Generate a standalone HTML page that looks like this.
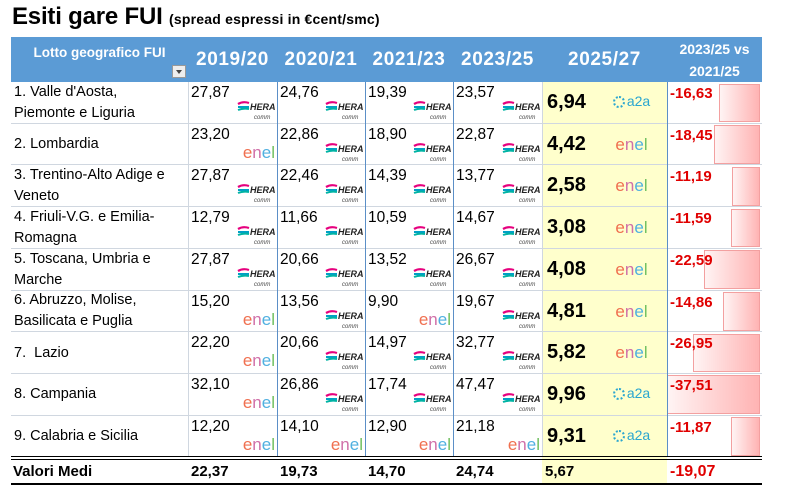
<!DOCTYPE html>
<html><head><meta charset="utf-8">
<style>
body{margin:0;width:785px;height:501px;background:#fff;position:relative;overflow:hidden;font-family:"Liberation Sans",sans-serif;}
.a{position:absolute;box-sizing:border-box;}
.title{left:12px;top:3px;font-size:24px;font-weight:bold;color:#000;white-space:nowrap;letter-spacing:-0.2px}
.title span{font-size:14px;letter-spacing:0.2px}
.hdr{background:#5b9bd5;color:#fff;font-weight:bold;display:flex;align-items:center;justify-content:center;text-align:center}
.lbl{font-size:14.5px;line-height:21px;padding-left:3px;color:#000;display:flex;align-items:center;white-space:nowrap}
.val{font-size:15.5px;color:#000;padding-left:3px;padding-top:2px}
.big{font-size:20px;font-weight:bold;color:#000}
.red{color:#e00000;font-weight:bold;font-size:15px}
.bar{background:linear-gradient(to right,#fff4f4,#ffb3b3);border:1px solid #f3a0a0}
</style></head><body>
<div class="a title">Esiti gare FUI <span>(spread espressi in €cent/smc)</span></div>
<div id="t"></div>
<script>
const years=["2019/20","2020/21","2021/23","2023/25"];
const lots=["1. Valle d'Aosta,<br>Piemonte e Liguria","2. Lombardia","3. Trentino-Alto Adige e<br>Veneto","4. Friuli-V.G. e Emilia-<br>Romagna","5. Toscana, Umbria e<br>Marche","6. Abruzzo, Molise,<br>Basilicata e Puglia","7.&nbsp; Lazio","8. Campania","9. Calabria e Sicilia"];
const v1920=["27,87","23,20","27,87","12,79","27,87","15,20","22,20","32,10","12,20"];
const v2021=["24,76","22,86","22,46","11,66","20,66","13,56","20,66","26,86","14,10"];
const v2123=["19,39","18,90","14,39","10,59","13,52","9,90","14,97","17,74","12,90"];
const v2325=["23,57","22,87","13,77","14,67","26,67","19,67","32,77","47,47","21,18"];
const v2527=["6,94","4,42","2,58","3,08","4,08","4,81","5,82","9,96","9,31"];
const diff=[-16.63,-18.45,-11.19,-11.59,-22.59,-14.86,-26.95,-37.51,-11.87];
const logos=[["h","h","h","h","a"],["e","h","h","h","e"],["h","h","h","h","e"],["h","h","h","h","e"],["h","h","h","h","e"],["e","h","e","h","e"],["e","h","h","h","e"],["e","h","h","h","a"],["e","e","e","e","a"]];
const avg=["22,37","19,73","14,70","24,74","5,67"];
const avgDiff="-19,07";
const cols=[v1920,v2021,v2123,v2325];
const X=[11,188,277,365,453,542,667,762];
const top0=37,hH=45,rH=41.7;
const T=document.getElementById('t');
function mk(cls,x,y,w,h,html){const d=document.createElement('div');d.className='a '+cls;d.style.left=x+'px';d.style.top=y+'px';d.style.width=w+'px';d.style.height=h+'px';if(html!==undefined)d.innerHTML=html;T.appendChild(d);return d;}
function hera(){return '<svg width="38" height="24" viewBox="0 0 38 24"><path d="M1 6 Q6 3 12 5" stroke="#e6007e" stroke-width="2.2" fill="none"/><path d="M1 9 H12" stroke="#00a0c6" stroke-width="2" /><path d="M1 12 Q6 10 12 11" stroke="#00b3a4" stroke-width="2" fill="none"/><text x="13" y="12" font-size="9" font-weight="bold" font-style="italic" fill="#222" font-family="Liberation Sans">HERA</text><text x="17" y="21" font-size="6" font-style="italic" fill="#444" font-family="Liberation Sans">comm</text></svg>';}
function enel(){return '<span style="font-size:17px;letter-spacing:0px;font-family:\'Liberation Sans\',sans-serif"><span style="color:#f07050">e</span><span style="color:#d070a8">n</span><span style="color:#50b0e0">e</span><span style="color:#70c060">l</span></span>';}
function a2a(){return '<span style="color:#2aa6d0;font-size:14px;white-space:nowrap"><span style="display:inline-block;width:12px;height:12px;border:2.5px dotted #2aa6d0;border-radius:50%;vertical-align:-2px;margin-right:2px;box-sizing:border-box"></span>a2a</span>';}
function logo(k){return k==='h'?hera():k==='e'?enel():a2a();}
let hd=mk('hdr',X[0],top0,X[7]-X[0],hH);

let h0=mk('hdr',X[0],top0,X[1]-X[0],hH,'<span style="font-size:13.5px;margin-top:-14px">Lotto geografico FUI</span>');

let dd=mk('',172,65,14,13,'<svg width="14" height="13"><rect x="0.5" y="0.5" width="13" height="12" fill="#eee" stroke="#999"/><path d="M4 5 L10 5 L7 9Z" fill="#444"/></svg>');

years.concat(["2025/27"]).forEach((y,i)=>{const e=mk('hdr',X[i+1],top0,X[i+2]-X[i+1],hH,'<span style="font-size:19px;letter-spacing:0.6px">'+y+'</span>');});
let hl=mk('hdr',X[6],top0,X[7]-X[6],hH,'<span style="font-size:14px;line-height:22px">2023/25 vs<br>2021/25</span>');

let yc=mk('',X[5],top0+hH,X[6]-X[5],rH*9+27);yc.style.background='#ffffcc';

const maxAbs=Math.max(...diff.map(Math.abs));
lots.forEach((l,r)=>{
 const y=top0+hH+r*rH;
 const ln=mk('',X[0],y+rH-1,X[7]-X[0],1);ln.style.background='#d0d7e0';
 
 const lb=mk('lbl',X[0],y,X[1]-X[0],rH,l);
 
 cols.forEach((c,i)=>{
  const cell=mk('val',X[i+1],y,X[i+2]-X[i+1],rH,c[r]);
  
  const lg=mk('',X[i+2]-42,y+(logos[r][i]==='h'?16:19),40,24,logo(logos[r][i]));lg.style.textAlign='right';
  
 });
 const b=mk('big',X[5]+5,y+9,60,24,v2527[r]);
 
 const lg=mk('',X[5]+62,y+11,55,22,logo(logos[r][4]));lg.style.textAlign='center';
 
 const w=Math.abs(diff[r])/maxAbs*(X[7]-2-X[6]);
 const bar=mk('bar',X[7]-2-w,y+1.5,w,rH-3);
 
 const dv=mk('red',X[6]+3,y+3,60,20,diff[r].toFixed(2).replace('.',','));
 
});
[1,2,3,4,5,6].forEach(i=>{const s=mk('',X[i],top0+hH,1,rH*9);s.style.background=(i>=2&&i<=4)||i===6?'#5b8fc7':'#d0d7e0';});
const fy=top0+hH+9*rH;
let d1=mk('',X[0],fy-1,X[7]-X[0],4);d1.style.borderTop='1.5px solid #000';d1.style.borderBottom='1.5px solid #000';

let d2=mk('',X[0],fy+26,X[7]-X[0],2);d2.style.background='#000';

let fl=mk('',X[0]+2,fy+6,170,20,'Valori Medi');fl.style.fontWeight='bold';fl.style.fontSize='15px';

avg.forEach((a,i)=>{const e=mk('',X[i+1]+3,fy+6,80,20,a);e.style.fontWeight='bold';e.style.fontSize='15px';});
let ad=mk('red',X[6]+3,fy+6,80,20,avgDiff);ad.style.fontSize='16px';

</script>
</body></html>
